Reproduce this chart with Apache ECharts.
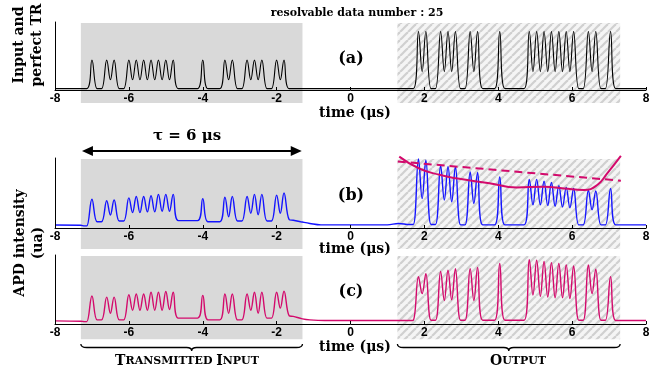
<!DOCTYPE html>
<html>
<head>
<meta charset="utf-8">
<script src="https://cdn.jsdelivr.net/npm/echarts@6.0.0/dist/echarts.min.js"></script>
<style>
  html, body { margin: 0; padding: 0; background: #fff; }
  #chart { width: 662px; height: 369px; }
</style>
</head>
<body>
<div id="chart"></div>
<script>
// time axis (µs)
const xTicks = [-8, -6, -4, -2, 0, 2, 4, 6, 8];
const grayRange = [-7.3, -1.3];
const hatchRange = [1.27, 7.3];
const tauRange = [-7.27, -1.32];

// pulse slots
const inputTimes = [-7.0, -6.6, -6.4, -6.0, -5.8, -5.6, -5.4, -5.2, -5.0, -4.8, -4.0, -3.4, -3.2, -2.8, -2.6, -2.4, -2.0, -1.8];
const outputTimes = [1.84, 2.04, 2.44, 2.64, 2.84, 3.24, 3.44, 4.04, 4.84, 5.04, 5.24, 5.44, 5.64, 5.84, 6.04, 6.44, 6.64, 7.04];

// (a) input and perfect time reversal
const aInPeaks = [4.4, 4.4, 4.4, 4.4, 4.4, 4.4, 4.4, 4.4, 4.4, 4.4, 4.4, 4.4, 4.4, 4.4, 4.4, 4.4, 4.4, 4.4];
const aInGaps = [0.2, 1.5, 0.2, 1.5, 1.5, 1.5, 1.5, 1.5, 1.5, 0.2, 0.2, 1.5, 0.2, 1.5, 1.5, 0.2, 1.5];
const aOutPeaks = [8.6, 8.6, 8.6, 8.6, 8.6, 8.6, 8.6, 8.6, 8.6, 8.6, 8.6, 8.6, 8.6, 8.6, 8.6, 8.6, 8.6, 8.6];
const aOutGaps = [2.7, 0.2, 2.7, 2.7, 0.2, 2.7, 0.2, 0.2, 2.7, 2.7, 2.7, 2.7, 2.7, 2.7, 0.2, 2.7, 0.2];

// (b) APD, blue
const bLead = [[-8, 0.43], [-7.3, 0.4], [-7.2, 0.3]];
const bInPeaks = [4.1, 3.9, 4.0, 4.3, 4.5, 4.5, 4.6, 4.8, 4.8, 4.8, 4.2, 4.4, 4.5, 4.5, 4.8, 4.8, 4.7, 5.0];
const bInGaps = [0.9, 1.86, 1.0, 2.2, 2.2, 2.3, 2.3, 2.4, 2.4, 1.05, 0.9, 1.6, 1.0, 2.1, 1.9, 1.0, 2.1];
const bMid = [[-1.55, 1.1], [-1.35, 0.9], [-1.1, 0.65], [-0.8, 0.45], [1.0, 0.45], [1.3, 0.65], [1.6, 0.5]];
const bOutPeaks = [9.86, 9.7, 8.9, 8.75, 8.75, 8.0, 7.95, 7.3, 6.95, 6.95, 6.7, 6.5, 6.05, 5.8, 5.65, 5.4, 5.3, 5.65];
const bOutGaps = [4.2, 0.5, 4.0, 3.75, 0.45, 3.5, 0.45, 0.45, 3.3, 3.3, 3.2, 3.1, 3.0, 2.9, 0.45, 2.6, 0.45];
const bTail = [[7.5, 0.45], [8, 0.45]];
const bEnvelope = [[1.32, 10.2], [1.86, 8.5], [2.41, 7.6], [2.86, 7.1], [3.76, 6.4], [4.5, 5.8], [5.24, 5.9], [5.78, 5.65], [6.32, 5.43], [6.68, 6.14], [6.95, 7.8], [7.32, 10.3]];
const bDashed = [[1.28, 9.5], [7.32, 6.76]];

// (c) APD, magenta
const cLead = [[-8, 0.45], [-7.3, 0.4], [-7.2, 0.35]];
const cInPeaks = [4.05, 3.9, 3.9, 4.25, 4.35, 4.35, 4.6, 4.6, 4.7, 4.6, 4.15, 4.35, 4.35, 4.35, 4.6, 4.6, 4.6, 4.75];
const cInGaps = [0.6, 1.55, 0.6, 2.0, 2.0, 2.0, 2.0, 2.0, 2.1, 0.85, 0.6, 1.55, 0.6, 2.0, 1.55, 0.85, 2.3];
const cMid = [[-1.55, 1.1], [-1.3, 0.75], [-1.1, 0.6], [-0.7, 0.5], [1.6, 0.5]];
const cOutPeaks = [6.86, 7.3, 7.6, 7.8, 8.0, 8.0, 8.2, 8.76, 9.33, 9.24, 9.05, 8.9, 8.76, 8.57, 8.43, 8.57, 7.95, 6.86];
const cOutGaps = [4.4, 0.55, 3.4, 3.5, 0.55, 3.4, 0.55, 0.55, 4.2, 4.0, 3.9, 3.8, 3.8, 3.7, 0.55, 4.4, 0.55];
const cTail = [[7.5, 0.5], [8, 0.5]];

const BLUE = "#1414ff";
const PINK = "#d30a6c";
const SERIF = '"DejaVu Serif", serif';

// polyline through peaks, dips between adjacent slots, flat floor otherwise
function pulses(times, peaks, gaps, startLevel, endLevel) {
  const w = 0.14;
  const pts = [[times[0] - w, startLevel]];
  times.forEach((t, i) => {
    pts.push([t, peaks[i]]);
    if (i === times.length - 1) return;
    const next = times[i + 1];
    if (next - t < 0.3) pts.push([(t + next) / 2, gaps[i]]);
    else pts.push([t + w, gaps[i]], [next - w, gaps[i]]);
  });
  pts.push([times[times.length - 1] + w, endLevel]);
  return pts;
}

const traceA = [[-8, 0.2]].concat(
  pulses(inputTimes, aInPeaks, aInGaps, 0.2, 0.2),
  pulses(outputTimes, aOutPeaks, aOutGaps, 0.2, 0.2),
  [[8, 0.2]]
);
const traceB = bLead.concat(
  pulses(inputTimes, bInPeaks, bInGaps, 0.3, 1.2),
  bMid,
  pulses(outputTimes, bOutPeaks, bOutGaps, 0.5, 0.45),
  bTail
);
const traceC = cLead.concat(
  pulses(inputTimes, cInPeaks, cInGaps, 0.35, 1.2),
  cMid,
  pulses(outputTimes, cOutPeaks, cOutGaps, 0.55, 0.5),
  cTail
);

// diagonal hatch tile
const hatch = document.createElement("canvas");
hatch.width = 8;
hatch.height = 8;
(function () {
  const ctx = hatch.getContext("2d");
  ctx.fillStyle = "#f5f5f5";
  ctx.fillRect(0, 0, 8, 8);
  ctx.strokeStyle = "#d0d0d0";
  ctx.lineWidth = 2.2;
  [-8, 0, 8].forEach((dx) => {
    ctx.beginPath();
    ctx.moveTo(dx, 8);
    ctx.lineTo(dx + 8, 0);
    ctx.stroke();
  });
})();

const grids = [
  { left: 55, right: 16, top: 22, height: 68 },
  { left: 55, right: 16, top: 158, height: 70 },
  { left: 55, right: 16, top: 255, height: 69 },
];
const rectBottoms = [-1.9, -3.0, -2.2];

const xAxes = grids.map((g, i) => ({
  gridIndex: i,
  type: "value",
  min: xTicks[0],
  max: xTicks[xTicks.length - 1],
  interval: 2,
  z: 5,
  axisLine: { onZero: false, lineStyle: { color: "#000", width: 1 } },
  axisTick: { inside: true, length: 3, lineStyle: { color: "#000" } },
  axisLabel: { color: "#000", fontWeight: "bold", fontSize: 12, fontFamily: "Liberation Sans", margin: 3 },
  splitLine: { show: false },
}));
const yAxes = grids.map((g, i) => ({
  gridIndex: i,
  type: "value",
  min: 0,
  max: 10,
  z: 5,
  axisLine: { show: true, onZero: false, lineStyle: { color: "#000", width: 1 } },
  axisTick: { show: false },
  axisLabel: { show: false },
  splitLine: { show: false },
}));

const shades = grids.map((g, i) => ({
  type: "custom",
  xAxisIndex: i,
  yAxisIndex: i,
  z: 1,
  clip: false,
  silent: true,
  data: [grayRange, hatchRange],
  renderItem: (params, api) => {
    const p0 = api.coord([api.value(0), 9.85]);
    const p1 = api.coord([api.value(1), rectBottoms[i]]);
    return {
      type: "rect",
      shape: { x: p0[0], y: p0[1], width: p1[0] - p0[0], height: p1[1] - p0[1] },
      style: { fill: params.dataIndex === 0 ? "#d9d9d9" : { image: hatch, repeat: "repeat" } },
    };
  },
}));

const braces = {
  type: "custom",
  xAxisIndex: 2,
  yAxisIndex: 2,
  z: 6,
  clip: false,
  silent: true,
  data: [grayRange, hatchRange],
  renderItem: (params, api) => {
    const a = api.coord([api.value(0), 0]);
    const b = api.coord([api.value(1), 0]);
    const y0 = a[1] + 20, y1 = y0 + 3.5, y2 = y1 + 3.5;
    const x0 = a[0], x1 = b[0], xc = (x0 + x1) / 2;
    const d = `M${x0},${y0} Q${x0},${y1} ${x0 + 6},${y1} L${xc - 5},${y1} Q${xc},${y1} ${xc},${y2} ` +
      `Q${xc},${y1} ${xc + 5},${y1} L${x1 - 6},${y1} Q${x1},${y1} ${x1},${y0}`;
    return {
      type: "path",
      shape: { pathData: d },
      style: { fill: "none", stroke: "#000", lineWidth: 1.3 },
    };
  },
};

// double arrow for tau, above panel (b)
const tauArrow = {
  type: "custom",
  xAxisIndex: 1,
  yAxisIndex: 1,
  z: 6,
  clip: false,
  silent: true,
  data: [tauRange],
  renderItem: (params, api) => {
    const a = api.coord([api.value(0), 11]);
    const b = api.coord([api.value(1), 11]);
    const y = Math.round(a[1]);
    return {
      type: "group",
      children: [
        { type: "line", shape: { x1: a[0] + 8, y1: y, x2: b[0] - 8, y2: y }, style: { stroke: "#000", lineWidth: 2 } },
        { type: "polygon", shape: { points: [[a[0], y], [a[0] + 11, y - 5], [a[0] + 11, y + 5]] }, style: { fill: "#000" } },
        { type: "polygon", shape: { points: [[b[0], y], [b[0] - 11, y - 5], [b[0] - 11, y + 5]] }, style: { fill: "#000" } },
      ],
    };
  },
};

const lineBase = { type: "line", symbol: "none", smooth: 0.4, animation: false, z: 3 };

const txt = (text, x, y, size, extra) => ({
  type: "text",
  x, y,
  z: 10,
  style: Object.assign({
    text, fill: "#000", font: `bold ${size}px ${SERIF}`,
    textAlign: "center", textVerticalAlign: "middle",
  }, extra || {}),
});

const chart = echarts.init(document.getElementById("chart"), null, { renderer: "canvas" });
chart.setOption({
  animation: false,
  backgroundColor: "#fff",
  grid: grids,
  xAxis: xAxes,
  yAxis: yAxes,
  series: shades.concat([
    Object.assign({}, lineBase, { xAxisIndex: 0, yAxisIndex: 0, data: traceA, lineStyle: { color: "#000", width: 1.1 } }),
    Object.assign({}, lineBase, { xAxisIndex: 1, yAxisIndex: 1, data: traceB, lineStyle: { color: BLUE, width: 1.4 } }),
    Object.assign({}, lineBase, { xAxisIndex: 2, yAxisIndex: 2, data: traceC, lineStyle: { color: PINK, width: 1.4 } }),
    {
      type: "line", xAxisIndex: 1, yAxisIndex: 1, symbol: "none", smooth: 0.5, clip: false, z: 4,
      data: bEnvelope, lineStyle: { color: PINK, width: 2 },
    },
    {
      type: "line", xAxisIndex: 1, yAxisIndex: 1, symbol: "none", clip: false, z: 4,
      data: bDashed, lineStyle: { color: PINK, width: 2, type: [8, 5] },
    },
    tauArrow,
    braces,
  ]),
  graphic: [
    txt("resolvable data number : 25", 357, 13, 11),
    txt("(a)", 351, 59, 16),
    txt("(b)", 351, 196, 16),
    txt("(c)", 351, 292, 16),
    txt("time (\u03bcs)", 355, 113, 14),
    txt("time (\u03bcs)", 355, 249, 14),
    txt("time (\u03bcs)", 355, 347, 14),
    txt("\u03c4 = 6 \u03bcs", 187, 136, 15),
    Object.assign(txt("Input and\nperfect TR", 28, 45, 14, { lineHeight: 18 }), { rotation: Math.PI / 2 }),
    Object.assign(txt("APD intensity\n(ua)", 29, 243, 14, { lineHeight: 18 }), { rotation: Math.PI / 2 }),
    {
      type: "text", x: 187, y: 361, z: 10,
      style: {
        text: "{b|T}{s|RANSMITTED }{b|I}{s|NPUT}",
        textAlign: "center", textVerticalAlign: "middle",
        rich: {
          b: { font: `bold 14px ${SERIF}`, fill: "#000" },
          s: { font: `bold 11px ${SERIF}`, fill: "#000" },
        },
      },
    },
    {
      type: "text", x: 518, y: 361, z: 10,
      style: {
        text: "{b|O}{s|UTPUT}",
        textAlign: "center", textVerticalAlign: "middle",
        rich: {
          b: { font: `bold 14px ${SERIF}`, fill: "#000" },
          s: { font: `bold 11px ${SERIF}`, fill: "#000" },
        },
      },
    },
  ],
});
</script>
</body>
</html>
